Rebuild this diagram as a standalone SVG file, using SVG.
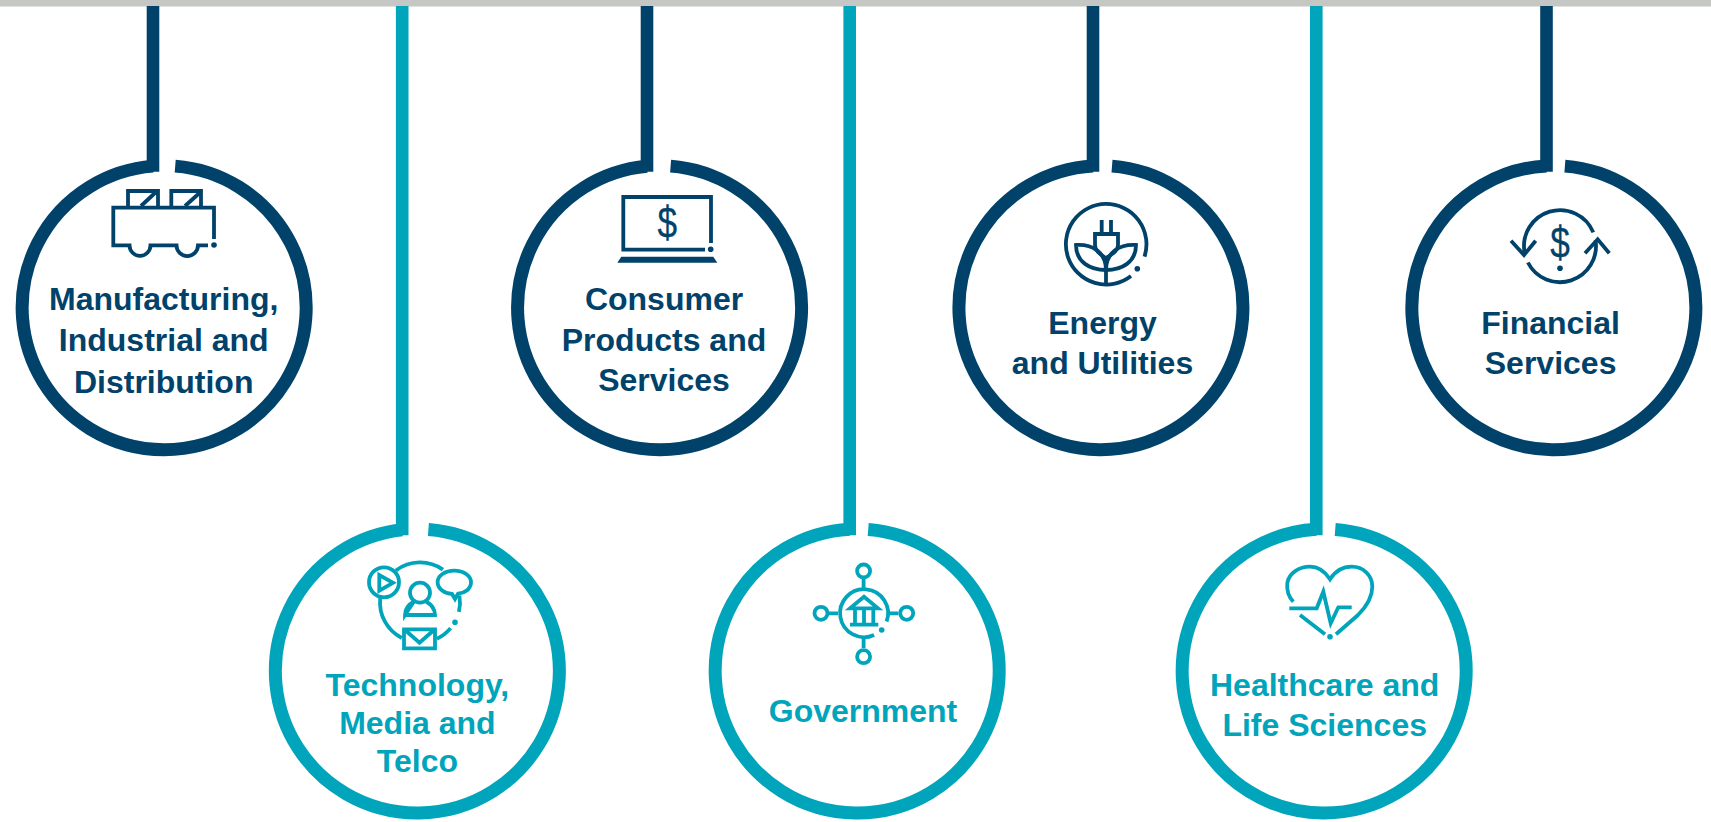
<svg xmlns="http://www.w3.org/2000/svg" width="1711" height="822" viewBox="0 0 1711 822">
<style>
.ring{fill:none;stroke-width:13}
.drop{fill:none;stroke-width:12.6}
.ic{fill:none;stroke-width:3.8}
.navy .ring,.navy .ic{stroke:#01426a}
.teal .ring,.teal .ic{stroke:#00a5bb}
.navy .dot,.navy text{fill:#01426a}
.teal .dot,.teal text{fill:#00a5bb}
text{font-family:"Liberation Sans",Arial,sans-serif;font-weight:700;font-size:32px;text-anchor:middle}
text.sign{font-weight:400;font-size:44px;stroke:#01426a;stroke-width:.3}
</style>
<rect x="0" y="0" width="1711" height="6.5" fill="#c5c7c4"/>
<g id="connectors">
<path class="drop" d="M153 6V171.7" stroke="#01426a"/>
<path class="drop" d="M402.2 6V535.3" stroke="#00a5bb"/>
<path class="drop" d="M647 6V171.7" stroke="#01426a"/>
<path class="drop" d="M849.7 6V535.3" stroke="#00a5bb"/>
<path class="drop" d="M1093 6V171.7" stroke="#01426a"/>
<path class="drop" d="M1316.3 6V535.3" stroke="#00a5bb"/>
<path class="drop" d="M1546.5 6V171.7" stroke="#01426a"/>
</g>
<g id="manufacturing" class="navy">
<path class="ring" d="M175.2 166.13A142 142 0 1 1 153 166.14"/>
<path class="ic" d="M214 239V207.7H113.3V245.3H129.5A10.5 10.5 0 0 0 150.5 245.3H176.5A10.5 10.5 0 0 0 198 245.3H208"/>
<path class="ic" d="M128 206V191H158V206M141 206L156 192M171.3 206V191H201V206M185 206L199.5 193"/>
<circle class="dot" cx="214" cy="245" r="2.8"/>
<text x="163.7" y="310">Manufacturing,</text>
<text x="163.7" y="351">Industrial and</text>
<text x="163.7" y="392.5">Distribution</text>
</g>
<g id="technology" class="teal">
<path class="ring" d="M428.4 529.43A142 142 0 1 1 402.2 529.81"/>
<path class="ic" d="M395.9 570.5A40 40 0 0 1 442.9 569.6M380.2 598.2A40 40 0 0 0 401.8 638M459.4 595.5A40 40 0 0 1 458.9 611.9M450.6 628.1A40 40 0 0 1 436.9 638.7"/>
<circle class="ic" cx="384" cy="582.3" r="15"/>
<path class="ic" d="M379.3 575V590.7L393 582.8Z"/>
<path class="ic" d="M454.3 570.6C445 570.6 437.6 575.8 437.6 582.3C437.6 588.8 445 594 452 594L455 599L458 593.7C465 593 471 588.8 471 582.3C471 575.8 463.6 570.6 454.3 570.6Z"/>
<circle class="ic" cx="420" cy="592.7" r="10"/>
<path class="ic" d="M405 615H435C435 608 430.5 604 426 601.5M414 601.5C409.5 604 405 608 405 615Z"/>
<path class="ic" d="M404 629.3H435V648.3H404ZM405 630L419.5 642.7L434 630"/>
<circle class="dot" cx="455" cy="622.3" r="2.8"/>
<text x="417.4" y="696">Technology,</text>
<text x="417.4" y="734">Media and</text>
<text x="417.4" y="771.5">Telco</text>
</g>
<g id="consumer" class="navy">
<path class="ring" d="M670.6 166.13A142 142 0 1 1 647 166.26"/>
<path class="ic" d="M711 243V197H623.3V249.7H705"/>
<path class="dot" d="M617.3 262.7L621.3 256.7H713.3L717.3 262.7Z"/>
<circle class="dot" cx="710.7" cy="249.3" r="2.8"/>
<text class="sign" transform="translate(667.3 238) scale(.8 1)">$</text>
<text x="664" y="310">Consumer</text>
<text x="664" y="351">Products and</text>
<text x="664" y="390.5">Services</text>
</g>
<g id="government" class="teal">
<path class="ring" d="M868.2 529.43A142 142 0 1 1 849.7 529.2"/>
<path class="ic" d="M874.1 635A24 24 0 1 1 886.6 621.5"/>
<circle class="ic" cx="863.6" cy="571" r="6.5"/>
<circle class="ic" cx="821" cy="613.3" r="6.5"/>
<circle class="ic" cx="906.7" cy="613.3" r="6.5"/>
<circle class="ic" cx="863.6" cy="656.7" r="6.5"/>
<path class="ic" d="M863.6 579V588M829 613.3H838M889.3 613.3H898.3M863.6 638V648"/>
<path class="ic" d="M864 596.7L850 608.3H878ZM855 610V623M864 610V623M873.3 610V623M850 624.7H878.3"/>
<circle class="dot" cx="881.7" cy="630" r="2.8"/>
<text x="863" y="722">Government</text>
</g>
<g id="energy" class="navy">
<path class="ring" d="M1112 166.13A142 142 0 1 1 1093 165.92"/>
<path class="ic" d="M1131 276A40.3 40.3 0 1 1 1144.5 256.7"/>
<path class="ic" d="M1101.7 220V234M1111 220V234M1095 234H1118V245C1118 251 1112 254 1106 258.3C1100 254 1095 251 1095 245ZM1106 258V283"/>
<path class="ic" d="M1106 270C1090 270 1076 262 1076 245C1092 244 1106 252 1106 270ZM1106 270C1122 270 1136 262 1136 245C1120 244 1106 252 1106 270Z"/>
<circle class="dot" cx="1137.3" cy="268.7" r="2.8"/>
<text x="1102.5" y="334">Energy</text>
<text x="1102.5" y="374">and Utilities</text>
</g>
<g id="healthcare" class="teal">
<path class="ring" d="M1335.2 529.43A142 142 0 1 1 1316.3 529.22"/>
<path class="ic" d="M1293.3 601.7C1288 596 1286.5 590 1287.3 583C1289 573 1299 566.7 1310 566.7C1318 566.7 1325 571.5 1330 579.3C1335 571.5 1343 566.7 1351.7 566.7C1363 566.7 1372.3 575 1372.3 586.7C1372.3 598 1366 607 1358 615L1336 634.3M1300 615L1325 634.3"/>
<path class="ic" d="M1289.3 608.3H1316.7L1323.3 591.7L1330.7 623.3L1338.3 607.3H1351.7"/>
<circle class="dot" cx="1330" cy="636.7" r="2.8"/>
<text x="1324.7" y="696">Healthcare and</text>
<text x="1324.7" y="735.5">Life Sciences</text>
</g>
<g id="financial" class="navy">
<path class="ring" d="M1564.9 166.13A142 142 0 1 1 1546.5 165.89"/>
<path class="ic" d="M1593.3 232.4A36 36 0 0 0 1524.7 253.1M1527.9 262.5A36 36 0 0 0 1595.5 240.3"/>
<path class="ic" d="M1511 240.7L1524 255L1535.7 240.7M1585 253.3L1597.7 239.3L1609.3 253.3"/>
<text class="sign" transform="translate(1560 257.5) scale(.8 1)">$</text>
<circle class="dot" cx="1560" cy="268.3" r="2.8"/>
<text x="1550.6" y="334">Financial</text>
<text x="1550.6" y="374">Services</text>
</g>
</svg>
